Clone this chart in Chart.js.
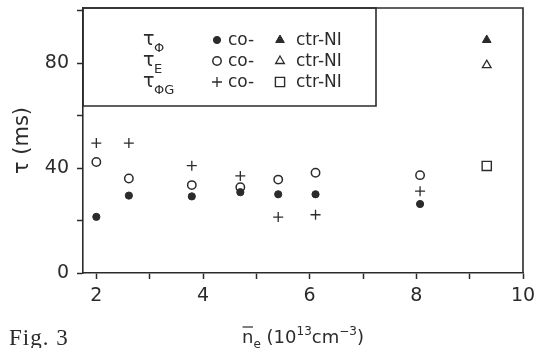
<!DOCTYPE html>
<html>
<head>
<meta charset="utf-8">
<script src="https://cdn.jsdelivr.net/npm/chart.js@4/dist/chart.umd.min.js"></script>
<style>
  html, body { margin: 0; padding: 0; background: #fff; }
  #wrap { width: 536px; height: 348px; }
</style>
</head>
<body>
<div id="wrap"><canvas id="c" width="536" height="348"></canvas></div>
<script>
// electron density n_e (10^13 cm^-3), co-injection shots
const densityCo = [2.0, 2.61, 3.79, 4.70, 5.41, 6.11, 8.07]
const tauPhiCo = [21.4, 29.5, 29.2, 30.8, 30.0, 30.0, 26.3]
const tauECo = [42.3, 36.0, 33.5, 32.7, 35.6, 38.2, 37.3]
const tauPhiGCo = [49.5, 49.5, 40.9, 37.0, 21.3, 22.2, 31.2]
// counter-NI shot
const densityCtr = [9.32]
const tauPhiCtr = [88.8]
const tauECtr = [79.2]
const tauPhiGCtr = [40.8]

const xTicks = [2, 3, 4, 5, 6, 7, 8, 9, 10]
const xLabels = [2, 4, 6, 8, 10]
const yTicks = [0, 20, 40, 60, 80, 100]
const yLabels = [0, 40, 80]

const ink = '#2b2b2b'
const font = '"DejaVu Sans", sans-serif'

const pts = (xs, ys) => xs.map((x, i) => ({ x: x, y: ys[i] }))

const styles = {
  phiCo: { pointStyle: 'circle', radius: 3.6, fill: ink, borderWidth: 1 },
  eCo: { pointStyle: 'circle', radius: 4.2, fill: '#fff', borderWidth: 1.5 },
  phiGCo: { pointStyle: 'cross', radius: 5, fill: ink, borderWidth: 1.3 },
  phiCtr: { pointStyle: 'triangle', radius: 5, fill: ink, borderWidth: 1 },
  eCtr: { pointStyle: 'triangle', radius: 5, fill: '#fff', borderWidth: 1.3 },
  phiGCtr: { pointStyle: 'rect', radius: 6.5, fill: '#fff', borderWidth: 1.4 },
}

function ds(label, data, st) {
  return {
    label: label,
    data: data,
    showLine: false,
    pointStyle: st.pointStyle,
    pointRadius: st.radius,
    pointBackgroundColor: st.fill,
    pointBorderColor: ink,
    pointBorderWidth: st.borderWidth,
  }
}

const legendRows = [
  { sym: 'Φ', co: styles.phiCo, ctr: styles.phiCtr },
  { sym: 'E', co: styles.eCo, ctr: styles.eCtr },
  { sym: 'ΦG', co: styles.phiGCo, ctr: styles.phiGCtr },
]

function point(ctx, st, x, y) {
  ctx.save()
  ctx.fillStyle = st.fill
  ctx.strokeStyle = ink
  ctx.lineWidth = st.borderWidth
  Chart.helpers.drawPoint(ctx, { pointStyle: st.pointStyle, radius: st.radius, rotation: 0, borderWidth: st.borderWidth }, x, y)
  ctx.restore()
}

const decor = {
  id: 'decor',
  afterDraw(chart) {
    const ctx = chart.ctx
    const a = chart.chartArea
    ctx.save()
    ctx.strokeStyle = ink
    ctx.lineWidth = 1.6
    // top and right frame
    ctx.beginPath()
    ctx.moveTo(a.left, a.top)
    ctx.lineTo(a.right, a.top)
    ctx.lineTo(a.right, a.bottom)
    ctx.stroke()

    // legend box
    const bw = 293, bh = 98
    ctx.beginPath()
    ctx.rect(a.left, a.top, bw, bh)
    ctx.stroke()

    ctx.fillStyle = ink
    ctx.textBaseline = 'middle'
    legendRows.forEach((r, i) => {
      const y = a.top + 32 + i * 21
      ctx.font = '19px ' + font
      ctx.textAlign = 'left'
      ctx.fillText('τ', a.left + 60, y)
      ctx.font = '13px ' + font
      ctx.fillText(r.sym, a.left + 71, y + 9)
      point(ctx, r.co, a.left + 134, y)
      ctx.font = '17px ' + font
      ctx.fillText('co-', a.left + 145, y + 1)
      point(ctx, r.ctr, a.left + 197, y)
      ctx.fillText('ctr-NI', a.left + 213, y + 1)
    })

    // x axis title with sub/superscripts
    const cx = (a.left + a.right) / 2
    const by = 343
    const parts = [
      ['n', 18, 0], ['e', 12, 5], [' (10', 18, 0], ['13', 12, -8],
      ['cm', 18, 0], ['−3', 12, -8], [')', 18, 0],
    ]
    let w = 0
    parts.forEach(p => { ctx.font = p[1] + 'px ' + font; w += ctx.measureText(p[0]).width })
    let x = cx - w / 2
    ctx.textBaseline = 'alphabetic'
    ctx.textAlign = 'left'
    parts.forEach((p, i) => {
      ctx.font = p[1] + 'px ' + font
      ctx.fillText(p[0], x, by + p[2])
      if (i === 0) {
        const nw = ctx.measureText('n').width
        ctx.lineWidth = 1.2
        ctx.beginPath()
        ctx.moveTo(x + 0.5, by - 16)
        ctx.lineTo(x + nw - 0.5, by - 16)
        ctx.stroke()
      }
      x += ctx.measureText(p[0]).width
    })

    // figure caption
    ctx.font = '23px "Liberation Serif", serif'
    ctx.letterSpacing = '1px'
    ctx.fillText('Fig. 3', 9, 345)
    ctx.restore()
  }
}

new Chart(document.getElementById('c'), {
  type: 'scatter',
  data: {
    datasets: [
      ds('τΦ co-', pts(densityCo, tauPhiCo), styles.phiCo),
      ds('τE co-', pts(densityCo, tauECo), styles.eCo),
      ds('τΦG co-', pts(densityCo, tauPhiGCo), styles.phiGCo),
      ds('τΦ ctr-NI', pts(densityCtr, tauPhiCtr), styles.phiCtr),
      ds('τE ctr-NI', pts(densityCtr, tauECtr), styles.eCtr),
      ds('τΦG ctr-NI', pts(densityCtr, tauPhiGCtr), styles.phiGCtr),
    ],
  },
  options: {
    animation: false,
    responsive: false,
    maintainAspectRatio: false,
    layout: { padding: { top: 8, right: 13, left: 0, bottom: 0 } },
    plugins: { legend: { display: false }, tooltip: { enabled: false } },
    scales: {
      x: {
        type: 'linear',
        min: 1.75,
        max: 10,
        afterBuildTicks: s => { s.ticks = xTicks.map(v => ({ value: v })) },
        afterFit: s => { s.height = 75; s.paddingLeft = 0; s.paddingRight = 0 },
        grid: { drawOnChartArea: false, tickLength: 6, tickColor: ink, tickWidth: 1.5 },
        border: { color: ink, width: 1.6 },
        ticks: {
          color: ink,
          font: { family: font, size: 19 },
          padding: 6,
          maxRotation: 0,
          autoSkip: false,
          callback: v => xLabels.includes(v) ? String(v) : '',
        },
      },
      y: {
        min: 0,
        max: 101,
        afterBuildTicks: s => { s.ticks = yTicks.map(v => ({ value: v })) },
        afterFit: s => { s.width = 83; s.paddingTop = 0; s.paddingBottom = 0 },
        grid: { drawOnChartArea: false, tickLength: 6, tickColor: ink, tickWidth: 1.5 },
        border: { color: ink, width: 1.6 },
        title: { display: true, text: 'τ (ms)', color: ink, font: { family: font, size: 21 }, padding: { top: 10, bottom: 0 } },
        ticks: {
          color: ink,
          font: { family: font, size: 19 },
          padding: 8,
          autoSkip: false,
          callback: v => yLabels.includes(v) ? String(v) : '',
        },
      },
    },
  },
  plugins: [decor],
})
</script>
</body>
</html>
